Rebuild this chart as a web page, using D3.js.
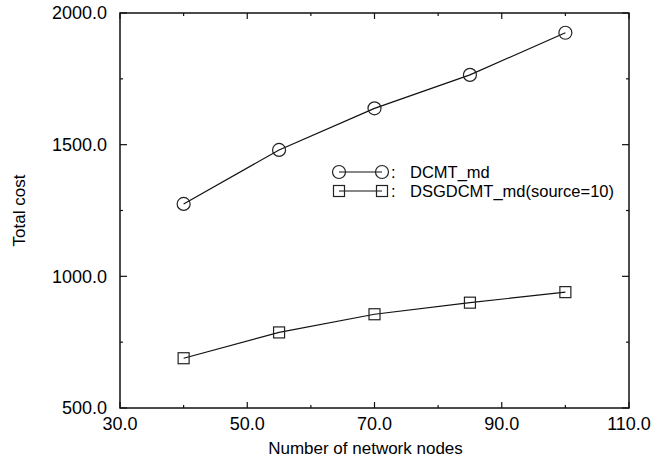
<!DOCTYPE html>
<html>
<head>
<meta charset="utf-8">
<script src="https://cdn.jsdelivr.net/npm/d3@7"></script>
<style>
body { margin: 0; background: #fff; }
text { font-family: "Liberation Sans", Arial, sans-serif; fill: #000; }
</style>
</head>
<body>
<script>
var w = 655, h = 465;
var margin = {top: 13, right: 26, bottom: 57, left: 120};

// data
var nodes = [40, 55, 70, 85, 100];
var dcmt = [1275, 1480, 1638, 1765, 1925];
var dsgdcmt = [689, 787, 856, 900, 940];
var xMajor = [30, 50, 70, 90, 110];
var xMinor = [40, 60, 80, 100];
var yMajor = [500, 1000, 1500, 2000];
var yMinor = [750, 1250, 1750];
var seriesNames = ["DCMT_md", "DSGDCMT_md(source=10)"];

var iw = w - margin.left - margin.right,
    ih = h - margin.top - margin.bottom;

var x = d3.scaleLinear().domain([30, 110]).range([0, iw]);
var y = d3.scaleLinear().domain([500, 2000]).range([ih, 0]);

var svg = d3.select("body").append("svg")
            .attr("width", w)
            .attr("height", h);

var g = svg.append("g").attr("transform", "translate(" + margin.left + "," + margin.top + ")");

//frame
g.append("rect")
    .attr("width", iw).attr("height", ih)
    .attr("fill", "none").attr("stroke", "#111").attr("stroke-width", 1.5);

//inward ticks on all four sides
function ticks(vals, len) {
    vals.forEach(function(v){
        var px = x(v);
        g.append("line").attr("x1", px).attr("x2", px).attr("y1", ih).attr("y2", ih - len);
        g.append("line").attr("x1", px).attr("x2", px).attr("y1", 0).attr("y2", len);
    });
}
function yticks(vals, len) {
    vals.forEach(function(v){
        var py = y(v);
        g.append("line").attr("x1", 0).attr("x2", len).attr("y1", py).attr("y2", py);
        g.append("line").attr("x1", iw).attr("x2", iw - len).attr("y1", py).attr("y2", py);
    });
}
ticks(xMajor, 6);
ticks(xMinor, 3);
yticks(yMajor, 7);
yticks(yMinor, 3);
g.selectAll("line").attr("stroke", "#111").attr("stroke-width", 1.2);

//tick labels
g.selectAll(".xl").data(xMajor).enter().append("text")
    .attr("x", function(d){ return x(d); })
    .attr("y", ih + 22)
    .attr("text-anchor", "middle")
    .style("font-size", "18px")
    .text(function(d){ return d.toFixed(1); });

g.selectAll(".yl").data(yMajor).enter().append("text")
    .attr("x", -13)
    .attr("y", function(d){ return y(d); })
    .attr("dy", "0.35em")
    .attr("text-anchor", "end")
    .style("font-size", "18px")
    .text(function(d){ return d.toFixed(1); });

//axis titles
g.append("text")
    .attr("x", iw / 2 - 9)
    .attr("y", ih + 46)
    .attr("text-anchor", "middle")
    .style("font-size", "17px")
    .text("Number of network nodes");

svg.append("text")
    .attr("transform", "translate(25," + (margin.top + ih / 2) + ") rotate(-90)")
    .attr("text-anchor", "middle")
    .style("font-size", "17px")
    .text("Total cost");

//lines
var line = d3.line()
    .x(function(d, i){ return x(nodes[i]); })
    .y(function(d){ return y(d); });

[dcmt, dsgdcmt].forEach(function(s, k){
    g.append("path")
        .attr("d", line(s))
        .attr("fill", "none")
        .attr("stroke", "#111")
        .attr("stroke-width", 1.2);
    drawMarkers(g, s.map(function(d, i){ return [x(nodes[i]), y(d)]; }), k);
});

function drawMarkers(sel, pts, k) {
    pts.forEach(function(p){
        if (k == 0) {
            sel.append("circle")
                .attr("cx", p[0]).attr("cy", p[1]).attr("r", 6.5)
                .attr("fill", "none").attr("stroke", "#222").attr("stroke-width", 1.2);
        } else {
            sel.append("rect")
                .attr("x", p[0] - 5.5).attr("y", p[1] - 5.5)
                .attr("width", 11).attr("height", 11)
                .attr("fill", "none").attr("stroke", "#222").attr("stroke-width", 1.2);
        }
    });
}

//legend
var legend = svg.append("g");
seriesNames.forEach(function(name, k){
    var ly = 172 + k * 19;
    legend.append("line")
        .attr("x1", 339).attr("x2", 382)
        .attr("y1", ly).attr("y2", ly)
        .attr("stroke", "#111").attr("stroke-width", 1.2);
    drawMarkers(legend, [[339, ly], [382, ly]], k);
    legend.append("text")
        .attr("x", 391)
        .attr("y", ly + 6)
        .style("font-size", "16.5px")
        .text(":");
    legend.append("text")
        .attr("x", 410)
        .attr("y", ly + 6)
        .style("font-size", "16.5px")
        .text(name);
});
</script>
</body>
</html>
